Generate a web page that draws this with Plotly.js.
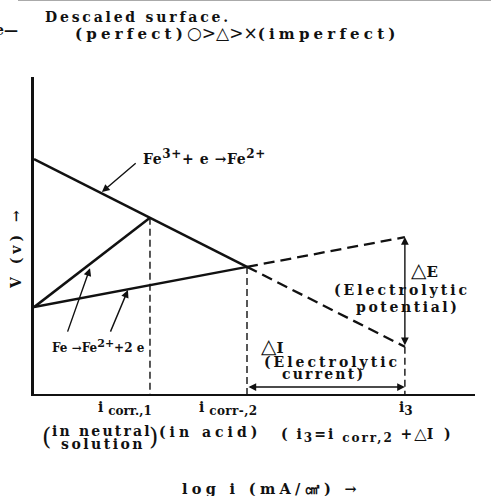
<!DOCTYPE html>
<html>
<head>
<meta charset="utf-8">
<script src="https://cdn.plot.ly/plotly-3.0.1.min.js"></script>
<style>html,body{margin:0;padding:0;background:#fff;}#chart{width:491px;height:496px;}</style>
</head>
<body>
<div id="chart"></div>
<script>
// ---- data (arbitrary log i / V units) ----
var iCorr1 = 2.63;   // i_corr,1 (neutral)
var iCorr2 = 4.83;   // i_corr,2 (acid)
var i3 = 8.41;       // i3 = i_corr,2 + dI

var cathX = [0, iCorr1, iCorr2];
var cathV = [7.41, 5.56, 4.01];
var cathExtX = [iCorr2, i3];
var cathExtV = [4.01, 1.49];

var anodNeutralX = [0, iCorr1];
var anodNeutralV = [2.74, 5.56];

var anodAcidX = [0, iCorr2];
var anodAcidV = [2.74, 4.01];
var anodExtX = [iCorr2, i3];
var anodExtV = [4.01, 4.95];

var dropX1 = [iCorr1, iCorr1];
var dropV1 = [5.56, 0];
var dropX2 = [iCorr2, iCorr2];
var dropV2 = [4.01, 0];
var dropX3 = [i3, i3];
var dropV3 = [1.49, 0];

var deltaIV = 0.22;

var tickBase = ['i', 'i', 'i'];
var tickSubs = ['corr.,1', 'corr-,2', '3'];

// ---- layout helpers (pixel -> paper) ----
var L = 34, R = 475, T = 77, B = 394;
function px(p){ return (p - L) / (R - L); }
function py(p){ return (B - p) / (B - T); }

var FONT = 'DejaVu Serif, Liberation Serif, serif';
function sp(t, s){ return '<span style="letter-spacing:' + (s === undefined ? 2.5 : s) + 'px">' + t + '</span>'; }
function big(tag, t, size){ return '<' + tag + '><span style="font-size:' + size + 'px;font-weight:bold">' + t + '</span></' + tag + '>'; }
function txt(text, x, y, size, xanchor, extra){
  var a = {text: text, xref: 'paper', yref: 'paper', x: px(x), y: py(y), showarrow: false,
    xanchor: xanchor || 'left', yanchor: 'middle',
    font: {family: FONT, size: size || 14, color: '#111', weight: 'bold'}};
  if (extra) for (var k in extra) a[k] = extra[k];
  return a;
}

var solid = {color: '#111', width: 2.5};
var dashedExt = {color: '#111', width: 2.3, dash: '11px,6px'};
var dashedV = {color: '#111', width: 1.4, dash: '7px,4px'};

var traces = [
  {x: cathX, y: cathV, mode: 'lines', line: solid},
  {x: cathExtX, y: cathExtV, mode: 'lines', line: dashedExt},
  {x: anodNeutralX, y: anodNeutralV, mode: 'lines', line: solid},
  {x: anodAcidX, y: anodAcidV, mode: 'lines', line: solid},
  {x: anodExtX, y: anodExtV, mode: 'lines', line: dashedExt},
  {x: dropX1, y: dropV1, mode: 'lines', line: dashedV},
  {x: dropX2, y: dropV2, mode: 'lines', line: dashedV},
  {x: dropX3, y: dropV3, mode: 'lines', line: dashedV}
];

function arrow(hx, hy, tx, ty, side){
  return {x: hx, y: hy, ax: tx, ay: ty, xref: 'x', yref: 'y', axref: 'x', ayref: 'y',
    text: '', showarrow: true, arrowhead: 2, arrowsize: 1.1, arrowwidth: 1.4, arrowcolor: '#111',
    arrowside: side || 'end', standoff: 0, startstandoff: 0};
}

function sym(t, size){ return '<span style="font-family:DejaVu Sans;font-weight:normal;font-size:' + size + 'px">' + t + '</span>'; }

var annotations = [
  txt(sp('Descaled surface.', 2.8), 43, 17, 14),
  txt(sp('(perfect)', 4.2) + sym('○>△>×', 17) + sp('(imperfect)', 4.2), 73, 33, 15),
  txt('e—', 20, 30, 14, 'right'),
  txt(sp('Fe' + big('sup', '3+', 12) + '+ e →Fe' + big('sup', '2+', 12), 0.6), 141, 157, 14),
  txt('Fe →Fe' + big('sup', '2+', 11) + '+2 e', 50, 346, 12),
  txt(sym('△', 20) + 'E', 409, 270, 15),
  txt(sp('(Electrolytic', 3), 402, 290, 14, 'center'),
  txt(sp('potential)', 2.6), 407, 307, 14, 'center'),
  txt(sym('△', 20) + 'I', 259, 346, 15),
  txt(sp('(Electrolytic', 3), 332, 362, 14, 'center'),
  txt(sp('current)', 2.2), 323, 374, 14, 'center'),
  txt(tickBase[0] + ' ' + big('sub', tickSubs[0], 12), 125, 408, 14, 'center'),
  txt(tickBase[1] + ' ' + big('sub', sp(tickSubs[1], 0.4), 12), 228, 408, 14, 'center'),
  txt(tickBase[2] + big('sub', tickSubs[2], 12), 406, 408, 14, 'center'),
  txt('<span style="font-weight:normal">(</span>', 40, 437, 24, 'left'),
  txt(sp('in neutral', 2.2), 102, 431, 14, 'center'),
  txt(sp('solution', 2.5), 103, 444, 14, 'center'),
  txt('<span style="font-weight:normal">)</span>', 160, 437, 24, 'right'),
  txt(sp('(in acid)', 4), 157, 432, 14),
  txt(sp('( i' + big('sub', '3', 12) + '=i ' + big('sub', 'corr,2', 12) + ' +', 2) + sym('△', 16) + sp('I )', 3), 279, 434, 14),
  txt(sp('log i (mA/㎠) →', 4.3), 271, 488, 14.5, 'center'),
  txt(sp('V (v) →', 4), 16, 248, 14, 'center', {textangle: -90}),
  // pointer arrows
  arrow(1.54, 6.37, 2.34, 7.32),
  arrow(1.27, 3.97, 0.75, 1.92),
  arrow(2.13, 3.28, 1.72, 1.92),
  // double arrows
  arrow(i3, 4.95, i3, 1.49, 'end+start'),
  arrow(i3, deltaIV, iCorr2, deltaIV, 'end+start')
];

var layout = {
  width: 491, height: 496,
  margin: {l: L, r: 491 - R, t: T, b: 496 - B, pad: 0},
  paper_bgcolor: '#fff', plot_bgcolor: '#fff',
  showlegend: false,
  xaxis: {range: [0, 10], showgrid: false, zeroline: false, showticklabels: false, ticks: '',
    showline: true, linecolor: '#111', linewidth: 2.2, fixedrange: true},
  yaxis: {range: [0, 10], showgrid: false, zeroline: false, showticklabels: false, ticks: '',
    showline: true, linecolor: '#111', linewidth: 2.6, fixedrange: true},
  annotations: annotations,
  shapes: [
    {type: 'line', xref: 'paper', yref: 'paper', x0: px(18), x1: px(491), y0: py(0.5), y1: py(0.5),
      line: {color: '#aaa', width: 1}}
  ]
};

Plotly.newPlot('chart', traces, layout, {staticPlot: true, displayModeBar: false});
</script>
</body>
</html>
